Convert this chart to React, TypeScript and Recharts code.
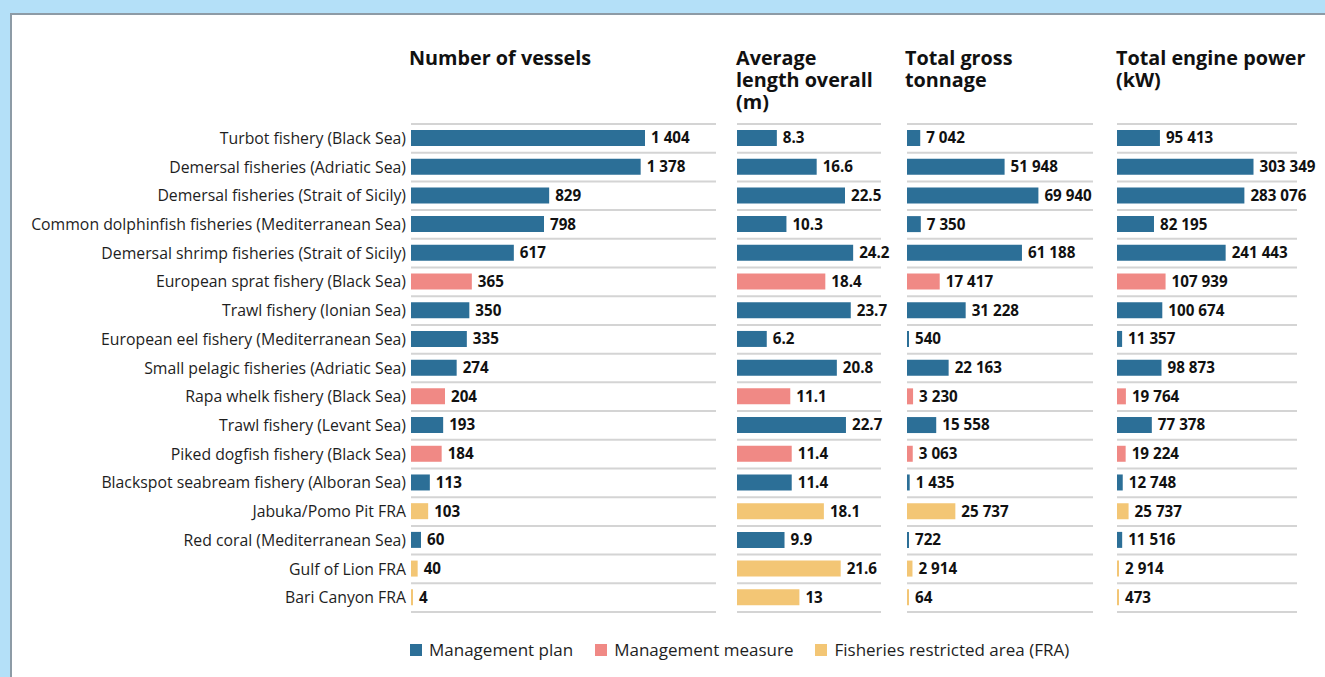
import React from 'react';
import { BarChart, Bar, XAxis, YAxis, CartesianGrid, Cell, LabelList } from 'recharts';

const categories = [
  'Turbot fishery (Black Sea)',
  'Demersal fisheries (Adriatic Sea)',
  'Demersal fisheries (Strait of Sicily)',
  'Common dolphinfish fisheries (Mediterranean Sea)',
  'Demersal shrimp fisheries (Strait of Sicily)',
  'European sprat fishery (Black Sea)',
  'Trawl fishery (Ionian Sea)',
  'European eel fishery (Mediterranean Sea)',
  'Small pelagic fisheries (Adriatic Sea)',
  'Rapa whelk fishery (Black Sea)',
  'Trawl fishery (Levant Sea)',
  'Piked dogfish fishery (Black Sea)',
  'Blackspot seabream fishery (Alboran Sea)',
  'Jabuka/Pomo Pit FRA',
  'Red coral (Mediterranean Sea)',
  'Gulf of Lion FRA',
  'Bari Canyon FRA',
];

const types = [
  'plan', 'plan', 'plan', 'plan', 'plan', 'measure', 'plan', 'plan', 'plan',
  'measure', 'plan', 'measure', 'plan', 'fra', 'plan', 'fra', 'fra',
];

const vessels = [1404, 1378, 829, 798, 617, 365, 350, 335, 274, 204, 193, 184, 113, 103, 60, 40, 4];
const lengthOverall = [8.3, 16.6, 22.5, 10.3, 24.2, 18.4, 23.7, 6.2, 20.8, 11.1, 22.7, 11.4, 11.4, 18.1, 9.9, 21.6, 13];
const grossTonnage = [7042, 51948, 69940, 7350, 61188, 17417, 31228, 540, 22163, 3230, 15558, 3063, 1435, 25737, 722, 2914, 64];
const enginePower = [95413, 303349, 283076, 82195, 241443, 107939, 100674, 11357, 98873, 19764, 77378, 19224, 12748, 25737, 11516, 2914, 473];

const legendKeys = ['plan', 'measure', 'fra'];
const legendLabels = ['Management plan', 'Management measure', 'Fisheries restricted area (FRA)'];

const titleVessels = ['Number of vessels'];
const titleLength = ['Average', 'length overall', '(m)'];
const titleTonnage = ['Total gross', 'tonnage'];
const titlePower = ['Total engine power', '(kW)'];

const COLORS: Record<string, string> = {
  plan: '#2c6f97',
  measure: '#f08985',
  fra: '#f3c675',
};

const FONT = '"Open Sans", "Noto Sans", sans-serif';

const data = categories.map((name, i) => ({
  name,
  type: types[i],
  vessels: vessels[i],
  length: lengthOverall[i],
  tonnage: grossTonnage[i],
  power: enginePower[i],
}));

const spaced = (v: any) => String(v).replace(/\B(?=(\d{3})+(?!\d))/g, ' ');
const plain = (v: any) => String(v);

const CHART_H = 640;
const M_TOP = 124;
const M_BOTTOM = 28;

const gridGen = (props: any) => {
  const off = props && props.offset ? props.offset : {};
  const top = off.top ?? M_TOP;
  const h = off.height ?? CHART_H - M_TOP - M_BOTTOM;
  const n = data.length;
  return Array.from({ length: n + 1 }, (_, i) => top + (i * h) / n);
};

type PanelProps = {
  dataKey: string;
  left: number;
  width: number;
  axisWidth: number;
  rightMargin: number;
  domain: [number, number];
  showAxis: boolean;
  format: (v: any) => string;
};

function Panel({ dataKey, left, width, axisWidth, rightMargin, domain, showAxis, format }: PanelProps) {
  return (
    <div style={{ position: 'absolute', left, top: 0, width, height: CHART_H }}>
      <BarChart
        width={width}
        height={CHART_H}
        data={data}
        layout="vertical"
        margin={{ top: M_TOP, right: rightMargin, bottom: M_BOTTOM, left: 0 }}
        style={{ overflow: 'visible' }}
      >
        <CartesianGrid
          vertical={false}
          stroke="#d4d4d4"
          strokeWidth={2}
          horizontalCoordinatesGenerator={gridGen}
        />
        <XAxis type="number" hide domain={domain} allowDataOverflow />
        <YAxis
          type="category"
          dataKey="name"
          hide={!showAxis}
          width={showAxis ? axisWidth : 0}
          axisLine={false}
          tickLine={false}
          tickSize={3}
          tickMargin={2}
          interval={0}
          tick={{ fontSize: 15.8, fill: '#1e1e1e', fontFamily: FONT }}
        />
        <Bar dataKey={dataKey} barSize={16} isAnimationActive={false} minPointSize={2}>
          {data.map((d, i) => (
            <Cell key={i} fill={COLORS[d.type]} />
          ))}
          <LabelList
            dataKey={dataKey}
            position="right"
            offset={6}
            formatter={format}
            style={{ fontSize: 15.2, fontWeight: 700, fill: '#111', fontFamily: FONT }}
          />
        </Bar>
      </BarChart>
    </div>
  );
}

const titleLine: React.CSSProperties = {
  position: 'absolute',
  fontFamily: FONT,
  fontWeight: 700,
  fontSize: 19.8,
  lineHeight: '22px',
  height: 22,
  color: '#111',
  whiteSpace: 'nowrap',
};

function Title({ lines, left }: { lines: string[]; left: number }) {
  return (
    <>
      {lines.map((t, i) => (
        <div key={i} style={{ ...titleLine, left, top: 47 + i * 22 }}>
          {t}
        </div>
      ))}
    </>
  );
}

export default function App() {
  return (
    <div
      style={{
        position: 'absolute',
        left: 0,
        top: 0,
        width: 1325,
        height: 677,
        background: '#b4e0f8',
        overflow: 'hidden',
        fontFamily: FONT,
      }}
    >
      <div
        style={{
          position: 'absolute',
          left: 10,
          top: 13,
          width: 1400,
          height: 700,
          background: '#ffffff',
          border: '2px solid #8d9ba6',
          boxSizing: 'border-box',
        }}
      />
      <Title lines={titleVessels} left={409} />
      <Title lines={titleLength} left={736} />
      <Title lines={titleTonnage} left={905} />
      <Title lines={titlePower} left={1116} />

      <Panel dataKey="vessels" left={0} width={740} axisWidth={411} rightMargin={24} domain={[0, 1830]} showAxis format={spaced} />
      <Panel dataKey="length" left={737} width={170} axisWidth={0} rightMargin={26} domain={[0, 30]} showAxis={false} format={plain} />
      <Panel dataKey="tonnage" left={907} width={210} axisWidth={0} rightMargin={24} domain={[0, 99000]} showAxis={false} format={spaced} />
      <Panel dataKey="power" left={1117} width={210} axisWidth={0} rightMargin={30} domain={[0, 400000]} showAxis={false} format={spaced} />

      <div
        style={{
          position: 'absolute',
          left: 410,
          top: 638,
          display: 'flex',
          alignItems: 'center',
          fontFamily: FONT,
          fontSize: 17,
          color: '#1e1e1e',
          lineHeight: '24px',
          whiteSpace: 'nowrap',
        }}
      >
        {legendKeys.map((k, i) => (
          <div key={k} style={{ display: 'flex', alignItems: 'center', marginRight: 22 }}>
            <span style={{ display: 'inline-block', width: 12, height: 12, background: COLORS[k], marginRight: 7 }} />
            <span>{legendLabels[i]}</span>
          </div>
        ))}
      </div>
    </div>
  );
}
